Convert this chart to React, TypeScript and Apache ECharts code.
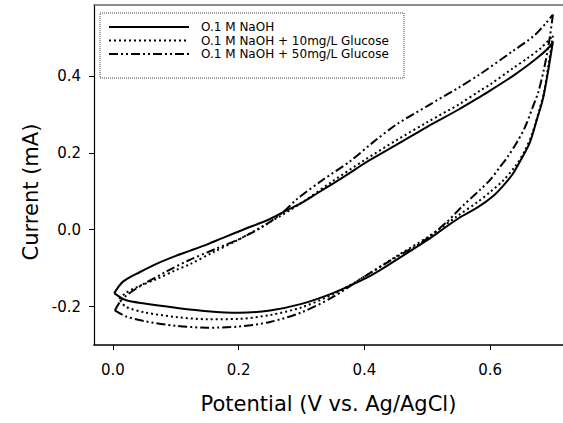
import React, { useEffect, useRef } from "react";
import * as echarts from "echarts";

const seriesNames = [
  "O.1 M NaOH",
  "O.1 M NaOH + 10mg/L Glucose",
  "O.1 M NaOH + 50mg/L Glucose",
];

// [potential (V), current (mA)]
const naohForward = [
  [0.002, -0.165], [0.016, -0.135], [0.043, -0.11], [0.07, -0.088], [0.1, -0.068],
  [0.122, -0.055], [0.15, -0.038], [0.175, -0.021], [0.207, 0.0], [0.25, 0.028],
  [0.27, 0.045], [0.3, 0.07], [0.325, 0.095], [0.35, 0.12], [0.377, 0.148],
  [0.4, 0.173], [0.452, 0.222], [0.5, 0.268], [0.55, 0.313], [0.584, 0.346],
  [0.6, 0.362], [0.636, 0.4], [0.66, 0.428], [0.68, 0.454], [0.695, 0.477], [0.7, 0.49],
];
const naohReverse = [
  [0.7, 0.49], [0.692, 0.41], [0.684, 0.34], [0.675, 0.29], [0.663, 0.226],
  [0.65, 0.185], [0.636, 0.145], [0.62, 0.113], [0.605, 0.088], [0.58, 0.058],
  [0.55, 0.03], [0.515, -0.01], [0.5, -0.027], [0.457, -0.072], [0.425, -0.105],
  [0.4, -0.128], [0.35, -0.165], [0.3, -0.193], [0.25, -0.21], [0.2, -0.216],
  [0.15, -0.212], [0.1, -0.203], [0.05, -0.192], [0.02, -0.183], [0.002, -0.165],
];
const glucose10Forward = [
  [0.01, -0.18], [0.02, -0.165], [0.04, -0.148], [0.07, -0.128], [0.1, -0.105],
  [0.122, -0.09], [0.16, -0.058], [0.197, -0.028], [0.25, 0.02], [0.3, 0.07],
  [0.35, 0.127], [0.4, 0.181], [0.452, 0.234], [0.5, 0.28], [0.55, 0.326],
  [0.584, 0.362], [0.6, 0.378], [0.636, 0.42], [0.66, 0.447], [0.68, 0.472], [0.7, 0.505],
];
const glucose10Reverse = [
  [0.7, 0.505], [0.693, 0.43], [0.686, 0.36], [0.678, 0.31], [0.667, 0.25],
  [0.655, 0.205], [0.64, 0.165], [0.62, 0.127], [0.6, 0.098], [0.58, 0.072],
  [0.55, 0.038], [0.5, -0.02], [0.45, -0.07], [0.4, -0.122], [0.35, -0.168],
  [0.3, -0.202], [0.25, -0.222], [0.2, -0.232], [0.15, -0.233], [0.1, -0.227],
  [0.05, -0.215], [0.02, -0.2], [0.01, -0.18],
];
const glucose50Forward = [
  [0.003, -0.21], [0.015, -0.18], [0.045, -0.145], [0.086, -0.108], [0.12, -0.08],
  [0.16, -0.052], [0.2, -0.025], [0.24, 0.01], [0.27, 0.045], [0.293, 0.08],
  [0.334, 0.13], [0.377, 0.178], [0.414, 0.228], [0.452, 0.275], [0.5, 0.322],
  [0.55, 0.37], [0.584, 0.405], [0.636, 0.465], [0.67, 0.505], [0.69, 0.54], [0.7, 0.56],
];
const glucose50Reverse = [
  [0.7, 0.56], [0.694, 0.49], [0.686, 0.42], [0.677, 0.36], [0.668, 0.32],
  [0.655, 0.265], [0.642, 0.226], [0.628, 0.19], [0.616, 0.164], [0.6, 0.13],
  [0.584, 0.104], [0.555, 0.06], [0.531, 0.02], [0.493, -0.031], [0.452, -0.07],
  [0.4, -0.122], [0.35, -0.175], [0.3, -0.215], [0.25, -0.24], [0.2, -0.252],
  [0.15, -0.255], [0.1, -0.25], [0.05, -0.238], [0.02, -0.225], [0.003, -0.21],
];

const xTickValues = [0.0, 0.2, 0.4, 0.6];
const yTickValues = [-0.2, 0.0, 0.2, 0.4];

const FONT = "DejaVu Sans";

const dashTypes: any[] = ["solid", [2, 3], [9, 3, 2, 3, 2, 3]];

export default function App() {
  const ref = useRef<HTMLDivElement>(null);
  useEffect(() => {
    if (!ref.current) return;
    const chart = echarts.init(ref.current, undefined, { renderer: "svg" });
    const fmt = (v: number) => v.toFixed(1);
    const mk = (name: string, data: number[][], idx: number) => ({
      name,
      type: "line",
      data,
      symbol: "none",
      smooth: 0.3,
      xAxisIndex: 0,
      yAxisIndex: 0,
      lineStyle: { color: "#000", width: 2, type: dashTypes[idx] },
      itemStyle: { color: "#000" },
    });
    chart.setOption({
      animation: false,
      grid: { left: 94, top: 5, right: 0, bottom: 78 },
      legend: {
        data: seriesNames,
        orient: "vertical",
        left: 100,
        top: 13,
        itemWidth: 80,
        itemHeight: 14,
        itemGap: 1.5,
        padding: [8, 12, 9, 8],
        selectedMode: false,
        itemStyle: { opacity: 0 },
        textStyle: { fontFamily: FONT, fontSize: 12, color: "#000", padding: [0, 0, 0, 7] },
      },
      xAxis: [
        {
          type: "value",
          min: -0.0302,
          max: 0.716,
          position: "bottom",
          axisLine: { show: true, onZero: false, lineStyle: { color: "#000", width: 1.5 } },
          axisTick: {
            show: true,
            inside: false,
            length: 5,
            customValues: xTickValues,
            lineStyle: { color: "#000" },
          },
          axisLabel: {
            margin: 17,
            fontFamily: FONT,
            fontSize: 15,
            color: "#000",
            customValues: xTickValues,
            formatter: fmt,
          },
          splitLine: { show: false },
          name: "Potential (V vs. Ag/AgCl)",
          nameLocation: "middle",
          nameGap: 48,
          nameTextStyle: { fontFamily: FONT, fontSize: 21, color: "#000", verticalAlign: "top" },
        },
        {
          type: "value",
          min: -0.0302,
          max: 0.716,
          position: "top",
          axisLine: { show: true, onZero: false, lineStyle: { color: "#666", width: 1.5 } },
          axisTick: { show: false },
          axisLabel: { show: false },
          splitLine: { show: false },
        },
      ],
      yAxis: {
        type: "value",
        min: -0.3,
        max: 0.585,
        axisLine: { show: true, onZero: false, lineStyle: { color: "#000", width: 1.2 } },
        axisTick: {
          show: true,
          inside: false,
          length: 5,
          customValues: yTickValues,
          lineStyle: { color: "#000" },
        },
        axisLabel: {
          margin: 13,
          fontFamily: FONT,
          fontSize: 15,
          color: "#000",
          customValues: yTickValues,
          formatter: fmt,
        },
        splitLine: { show: false },
      },
      graphic: [
        {
          type: "text",
          x: 31,
          y: 192,
          rotation: Math.PI / 2,
          style: {
            text: "Current (mA)",
            fontFamily: FONT,
            fontSize: 21,
            fill: "#000",
            align: "center",
            verticalAlign: "middle",
          },
        },
        {
          type: "rect",
          z: -1,
          shape: { x: 100, y: 13, width: 304, height: 65 },
          style: { fill: "#fff", stroke: "#444", lineWidth: 1, lineDash: [1, 1] },
        },
      ],
      series: [
        mk(seriesNames[0], naohForward, 0),
        mk(seriesNames[0], naohReverse, 0),
        mk(seriesNames[1], glucose10Forward, 1),
        mk(seriesNames[1], glucose10Reverse, 1),
        mk(seriesNames[2], glucose50Forward, 2),
        mk(seriesNames[2], glucose50Reverse, 2),
      ],
    });
    return () => chart.dispose();
  }, []);
  return (
    <div
      ref={ref}
      style={{ position: "absolute", left: 0, top: 0, width: 563, height: 423, background: "#fff" }}
    />
  );
}
